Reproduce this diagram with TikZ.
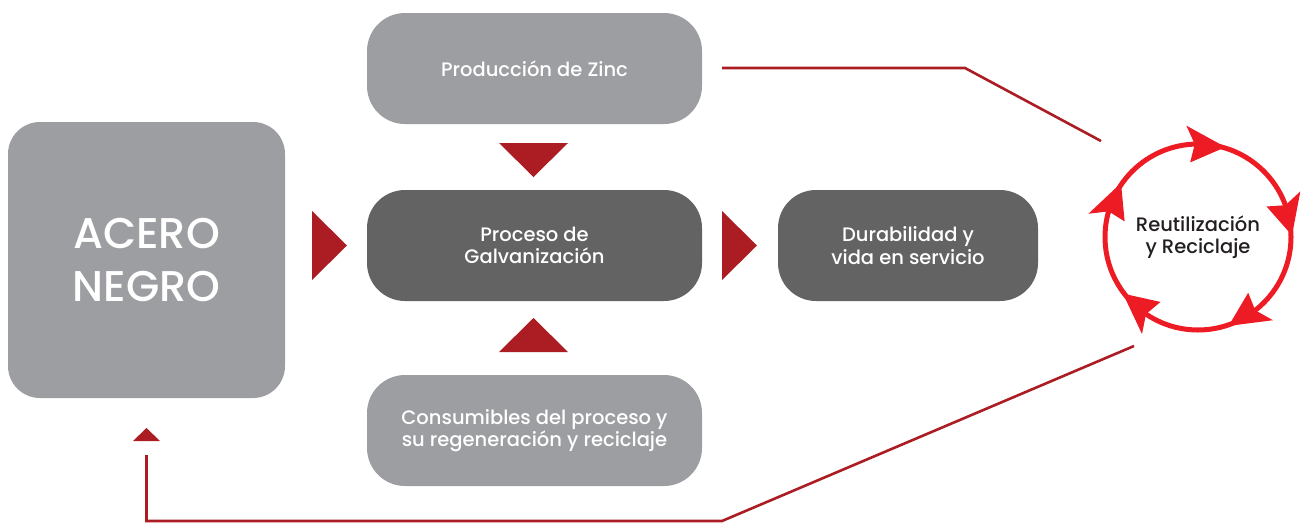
\documentclass[tikz,border=0pt]{standalone}
\usepackage{fontspec}
\setmainfont{Poppins}[UprightFont={* Medium}]
\usetikzlibrary{calc}
\definecolor{lgray}{HTML}{9D9EA2}
\definecolor{dgray}{HTML}{636363}
\definecolor{dred}{HTML}{AB1D23}
\definecolor{bred}{HTML}{ED1C24}
\definecolor{txt}{HTML}{231F20}
\begin{document}
\begin{tikzpicture}[x=1pt,y=-1pt,
  box/.style={rounded corners=38pt, inner sep=0pt, text=white, align=center,
    font=\fontsize{19.5}{22.5}\selectfont},
  lightbox/.style={box, fill=lgray},
  darkbox/.style={box, fill=dgray},
  marker/.style={fill=dred, draw=none},
  link/.style={draw=dred, line width=2.6pt},
  cyc/.style={draw=bred, line width=5pt},
  cychead/.style={fill=bred, draw=none}
]
\useasboundingbox (0,0) rectangle (1302,523);

% boxes
\node[lightbox, rounded corners=32pt, minimum width=277pt, minimum height=276pt,
  font=\fontsize{43}{53}\selectfont] (acero) at (146.5,260) {\raisebox{-3pt}{\parbox{260pt}{\centering ACERO\\NEGRO}}};
\node[lightbox, minimum width=335pt, minimum height=111pt] (zinc) at (534.5,68.5) {Producción de Zinc};
\node[darkbox, minimum width=335pt, minimum height=111pt] (galv) at (534.5,245.5) {Proceso de\\Galvanización};
\node[darkbox, minimum width=260pt, minimum height=111pt] (dur) at (908,245.5) {Durabilidad y\\vida en servicio};
\node[lightbox, minimum width=335pt, minimum height=111pt] (cons) at (534.5,430.5) {\raisebox{3pt}{\parbox{330pt}{\centering Consumibles del proceso y\\su regeneración y reciclaje}}};

% triangles
\fill[marker] (499,143) -- (568,143) -- (533.5,177) -- cycle;
\fill[marker] (499,352) -- (568,352) -- (533.5,318) -- cycle;
\fill[marker] (312,211) -- (347,245.5) -- (312,280) -- cycle;
\fill[marker] (722,211) -- (757,245.5) -- (722,280) -- cycle;
\fill[marker] (133,441) -- (160,441) -- (146.5,428) -- cycle;

% cycle
\coordinate (c) at (1198,237);
\node[text=txt, align=center, font=\fontsize{19.5}{21.5}\selectfont] (reuse) at (c) {Reutilización\\y Reciclaje};
\draw[cyc] (c) circle[radius=93];
\foreach \a in {-73,-1,71,143,215}{
  \fill[cychead] ($(c)+(\a:94)$) -- ($(c)+(\a-23:112)$) -- ($(c)+(\a-19:93)$) -- ($(c)+(\a-23:75)$) -- cycle;
}

% connectors
\coordinate (t0) at (722,68);
\coordinate (t1) at (965,68);
\coordinate (t2) at (1101,141);
\draw[link] (t0) -- (t1) -- (t2);
\coordinate (b0) at (1134,346);
\coordinate (b1) at (722,521);
\coordinate (b2) at (146.5,521);
\coordinate (b3) at (146.5,455);
\draw[link] (b0) -- (b1) -- (b2) -- (b3);
\end{tikzpicture}
\end{document}
